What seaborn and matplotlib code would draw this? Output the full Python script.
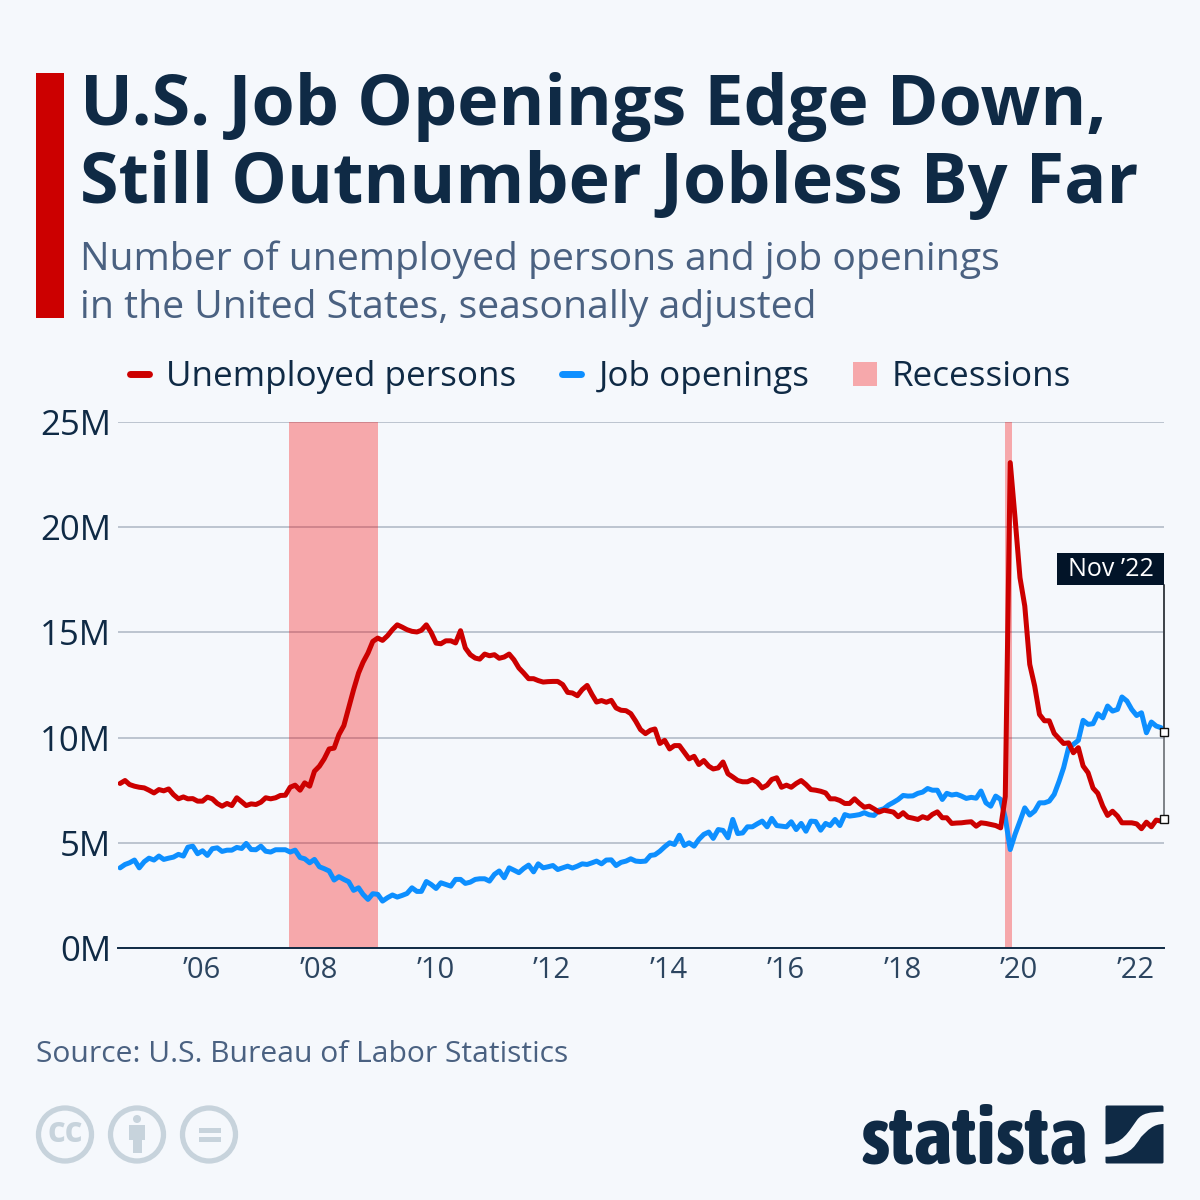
#!/usr/bin/env python3
"""
U.S. job openings vs unemployed persons, Statista style infographic
"""
import pandas as pd
import matplotlib
matplotlib.use("Agg")
import matplotlib.pyplot as plt
from matplotlib import font_manager
from matplotlib.lines import Line2D
from matplotlib.patches import Circle, FancyBboxPatch, PathPatch, Rectangle
from matplotlib.path import Path
import seaborn as sns

# monthly values in millions, Jan 2005 to Nov 2022
unemployed = [
    7.82, 7.96, 7.77, 7.69, 7.64, 7.61, 7.50, 7.37, 7.53, 7.47, 7.56, 7.29,
    7.09, 7.18, 7.09, 7.10, 6.98, 6.98, 7.17, 7.09, 6.87, 6.74, 6.87, 6.77,
    7.14, 6.95, 6.77, 6.85, 6.82, 6.93, 7.14, 7.09, 7.14, 7.25, 7.26, 7.64,
    7.74, 7.50, 7.85, 7.69, 8.40, 8.64, 8.99, 9.46, 9.50, 10.14, 10.57, 11.41,
    12.28, 13.07, 13.58, 14.02, 14.57, 14.73, 14.62, 14.84, 15.13, 15.36, 15.25, 15.13,
    15.05, 15.02, 15.10, 15.36, 15.00, 14.49, 14.46, 14.60, 14.60, 14.50, 15.08, 14.26,
    13.94, 13.78, 13.73, 13.97, 13.89, 13.94, 13.77, 13.83, 13.97, 13.70, 13.31, 13.07,
    12.80, 12.80, 12.71, 12.64, 12.66, 12.67, 12.67, 12.52, 12.15, 12.12, 11.99, 12.28,
    12.48, 12.04, 11.69, 11.76, 11.68, 11.77, 11.41, 11.30, 11.28, 11.14, 10.78, 10.38,
    10.19, 10.35, 10.41, 9.72, 9.87, 9.46, 9.62, 9.62, 9.30, 8.99, 9.11, 8.72,
    8.91, 8.64, 8.51, 8.56, 8.84, 8.28, 8.13, 7.96, 7.90, 7.90, 8.01, 7.88,
    7.61, 7.74, 8.01, 8.09, 7.64, 7.74, 7.64, 7.82, 7.96, 7.77, 7.53, 7.50,
    7.45, 7.37, 7.09, 7.09, 7.01, 6.87, 6.87, 7.09, 6.87, 6.69, 6.74, 6.61,
    6.46, 6.55, 6.51, 6.46, 6.24, 6.43, 6.22, 6.17, 6.11, 6.24, 6.16, 6.35,
    6.47, 6.19, 6.19, 5.92, 5.94, 5.95, 5.98, 6.00, 5.79, 5.95, 5.92, 5.87,
    5.82, 5.71, 7.20, 23.07, 20.45, 17.60, 16.25, 13.48, 12.45, 11.10, 10.80, 10.80,
    10.20, 9.95, 9.72, 9.75, 9.28, 9.52, 8.65, 8.33, 7.60, 7.35, 6.74, 6.30,
    6.50, 6.27, 5.95, 5.95, 5.95, 5.90, 5.67, 5.98, 5.76, 6.08, 6.03,
]
job_openings = [
    3.81, 3.97, 4.05, 4.18, 3.81, 4.10, 4.27, 4.18, 4.37, 4.21, 4.27, 4.32,
    4.45, 4.37, 4.79, 4.84, 4.48, 4.62, 4.40, 4.72, 4.76, 4.59, 4.65, 4.65,
    4.78, 4.73, 4.97, 4.68, 4.67, 4.84, 4.60, 4.56, 4.67, 4.67, 4.67, 4.56,
    4.65, 4.30, 4.24, 4.05, 4.21, 3.86, 3.77, 3.66, 3.23, 3.39, 3.26, 3.15,
    2.74, 2.86, 2.55, 2.31, 2.58, 2.55, 2.23, 2.39, 2.52, 2.42, 2.50, 2.59,
    2.86, 2.69, 2.69, 3.16, 3.02, 2.83, 3.10, 3.02, 2.94, 3.26, 3.26, 3.07,
    3.13, 3.26, 3.29, 3.29, 3.18, 3.50, 3.66, 3.34, 3.81, 3.70, 3.58, 3.78,
    3.94, 3.62, 4.00, 3.81, 3.86, 3.92, 3.73, 3.81, 3.89, 3.80, 3.89, 4.00,
    3.97, 4.05, 4.13, 4.00, 4.18, 4.19, 3.92, 4.07, 4.13, 4.24, 4.13, 4.11,
    4.13, 4.40, 4.43, 4.60, 4.81, 5.00, 4.92, 5.36, 4.87, 5.00, 4.84, 5.16,
    5.40, 5.51, 5.21, 5.63, 5.59, 5.24, 6.11, 5.44, 5.47, 5.76, 5.76, 5.90,
    6.03, 5.76, 6.16, 5.82, 5.79, 5.76, 6.00, 5.63, 5.92, 5.55, 6.03, 6.01,
    5.60, 5.92, 5.82, 6.11, 5.82, 6.34, 6.27, 6.30, 6.34, 6.43, 6.33, 6.30,
    6.55, 6.62, 6.79, 6.92, 7.06, 7.25, 7.22, 7.23, 7.35, 7.41, 7.58, 7.50,
    7.50, 7.06, 7.35, 7.27, 7.31, 7.22, 7.11, 7.16, 7.12, 7.46, 6.90, 6.74,
    7.22, 7.06, 6.19, 4.68, 5.40, 6.03, 6.66, 6.32, 6.51, 6.90, 6.90, 6.98,
    7.30, 7.93, 8.57, 9.52, 9.68, 9.87, 10.82, 10.63, 10.66, 11.13, 10.94, 11.50,
    11.26, 11.34, 11.93, 11.74, 11.34, 11.05, 11.18, 10.23, 10.74, 10.55, 10.47,
]
y_ticks = [0, 5, 10, 15, 20, 25]
x_tick_years = [2006, 2008, 2010, 2012, 2014, 2016, 2018, 2020, 2022]
recessions = [("2007-11-26", "2009-06-01"), ("2020-03-01", "2020-04-10")]
nov_openings = 10.27
nov_unemployed = 6.13

title_lines = ["U.S. Job Openings Edge Down,", "Still Outnumber Jobless By Far"]
subtitle_lines = ["Number of unemployed persons and job openings",
                  "in the United States, seasonally adjusted"]

BG = "#f5f8fc"
NAVY = "#0f2a45"
SLATE = "#4a6181"
RED = "#cc0000"
BLUE = "#0d8fff"
PINK = "#fa0000"
ICON = "#c7d3dc"

sns.set_theme(style="white")
plt.rcParams["font.family"] = ["Open Sans", "DejaVu Sans"]

fig = plt.figure(figsize=(12, 12), dpi=100, facecolor=BG)
ax = fig.add_axes([118 / 1200, 252 / 1200, 1046 / 1200, 526 / 1200], facecolor=BG)

dates = pd.date_range("2005-01-01", periods=len(unemployed), freq="MS")
df = pd.DataFrame({"date": dates, "Unemployed persons": unemployed, "Job openings": job_openings})
long_df = df.melt("date", var_name="series", value_name="value")

ax.yaxis.grid(True, color="#bcc4cf", lw=1.4, zorder=0)
ax.set_axisbelow(True)

for start, end in recessions:
    ax.axvspan(pd.Timestamp(start), pd.Timestamp(end), color=PINK, alpha=0.32, lw=0, zorder=1)

# blue first so the red line sits on top
sns.lineplot(data=long_df, x="date", y="value", hue="series", hue_order=["Job openings", "Unemployed persons"],
             palette={"Job openings": BLUE, "Unemployed persons": RED}, lw=3.6, legend=False, ax=ax, zorder=3,
             errorbar=None)
for line in ax.get_lines():
    line.set_solid_joinstyle("round")

right = pd.Timestamp("2022-11-19")
ax.set_xlim(pd.Timestamp("2004-12-19"), right)
ax.set_ylim(0, 25)
ax.set_xlabel("")
ax.set_ylabel("")
ax.set_yticks(y_ticks)
ax.set_yticklabels([f"{v}M" for v in y_ticks], fontsize=25, color=NAVY)
ax.set_xticks([pd.Timestamp(f"{y}-05-27") for y in x_tick_years])
ax.set_xticklabels([f"’{str(y)[2:]}" for y in x_tick_years], fontsize=21, color="#2c4560")
ax.tick_params(axis="both", length=0)
ax.tick_params(axis="y", pad=5)
ax.tick_params(axis="x", pad=6)
sns.despine(ax=ax, left=True, top=True, right=True)
ax.spines["bottom"].set_color(NAVY)
ax.spines["bottom"].set_linewidth(1.4)

# Nov '22 marker line and squares
ax.plot([right, right], [nov_unemployed, nov_openings], color="#7d8287", lw=1.4, clip_on=False, zorder=4)
ax.plot([right, right], [nov_openings, 17.25], color="#3c4248", lw=1.4, clip_on=False, zorder=4)
ax.plot([right, right], [nov_openings, nov_unemployed], ls="none", marker="s", ms=5.5, mfc="white", mec="#111111",
        mew=1, clip_on=False, zorder=5)

# overlay in pixel coordinates for the decoration around the chart
deco = fig.add_axes([0, 0, 1, 1], facecolor="none", zorder=5)
deco.set_xlim(0, 1200)
deco.set_ylim(1200, 0)
deco.axis("off")

deco.add_patch(Rectangle((36, 73), 28, 245, color=RED, lw=0))
for text, y in zip(title_lines, [125, 203]):
    deco.text(80.5, y, text, fontsize=50.4, fontweight="bold", color=NAVY, va="baseline", ha="left")
for text, y in zip(subtitle_lines, [270, 318]):
    deco.text(80.5, y, text, fontsize=28.2, color=SLATE, va="baseline", ha="left")

deco.add_patch(Rectangle((1057, 553), 107, 32, color="#021428", lw=0))
deco.text(1110.5, 569.5, "Nov ’22", fontsize=18, color="white", ha="center", va="center")

handles = [
    Line2D([0], [0], color=RED, lw=5, solid_capstyle="round"),
    Line2D([0], [0], color=BLUE, lw=5, solid_capstyle="round"),
    Line2D([0], [0], ls="none", marker="s", ms=17.3, mfc=PINK, mew=0, alpha=0.32),
]
fig.legend(handles, ["Unemployed persons", "Job openings", "Recessions"], ncol=3, frameon=False,
           loc="center", bbox_to_anchor=(600.5 / 1200, 1 - 377 / 1200), fontsize=25.2, labelcolor=NAVY,
           handlelength=0.55, handletextpad=0.5, columnspacing=1.3)

deco.text(36, 1062, "Source: U.S. Bureau of Labor Statistics", fontsize=21.6, color=SLATE, va="baseline", ha="left")

# cc icons
for cx in [65, 137, 209]:
    deco.add_patch(Circle((cx, 1134.5), 26.5, fc="none", ec=ICON, lw=3.8))
deco.text(65, 1133, "cc", fontsize=25, fontweight="bold", color=ICON, ha="center", va="center")
deco.add_patch(Circle((137, 1119), 4, color=ICON, lw=0))
deco.add_patch(Rectangle((129, 1125), 16, 15, color=ICON, lw=0))
deco.add_patch(Rectangle((132.5, 1139), 9, 14, color=ICON, lw=0))
deco.add_patch(Rectangle((199, 1127.5), 22, 5.5, color=ICON, lw=0))
deco.add_patch(Rectangle((199, 1136.5), 22, 5.5, color=ICON, lw=0))

# statista logo, take the narrowest bold face that is installed
logo_font = font_manager.FontProperties(family="Liberation Sans", weight="bold")
for f in font_manager.fontManager.ttflist:
    label = (f.name + " " + f.fname).lower()
    if ("condensed" in label or "narrow" in label) and "italic" not in label and "oblique" not in label \
            and "bold" in label and "extra" not in label and "semi" not in label and "dejavu" not in label:
        logo_font = font_manager.FontProperties(fname=f.fname)
        break
logo = deco.text(1088, 1163, "statista", fontproperties=logo_font, fontsize=60, color=NAVY, ha="right", va="baseline")
fig.canvas.draw()
logo.set_fontsize(60 * 228 / logo.get_window_extent().width)

deco.add_patch(FancyBboxPatch((1105.5, 1105.5), 58, 58, boxstyle="round,pad=0,rounding_size=1.5", fc=NAVY, ec="none"))
swoosh = Path(
    [(1105, 1144.3), (1122, 1145), (1129, 1131), (1137, 1120), (1142, 1113), (1150, 1112), (1164, 1111.7),
     (1164, 1124), (1153, 1124), (1148, 1130), (1141, 1137), (1134, 1148), (1128, 1157), (1105, 1156.7), (1105, 1144.3)],
    [Path.MOVETO, Path.CURVE4, Path.CURVE4, Path.CURVE4, Path.CURVE4, Path.CURVE4, Path.CURVE4,
     Path.LINETO, Path.CURVE4, Path.CURVE4, Path.CURVE4, Path.CURVE4, Path.CURVE4, Path.CURVE4, Path.CLOSEPOLY],
)
deco.add_patch(PathPatch(swoosh, fc=BG, ec="none"))

fig.savefig("out.png", dpi=100, facecolor=BG)
